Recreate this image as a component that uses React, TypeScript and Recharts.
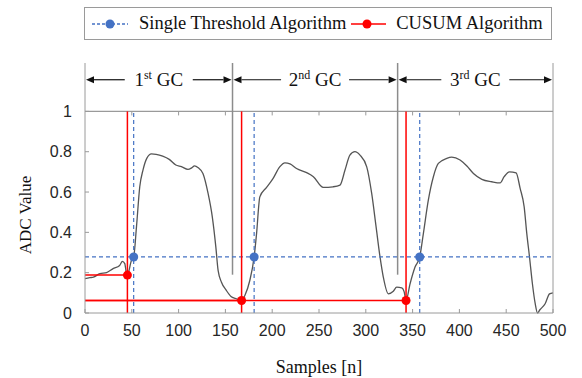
import { LineChart, Line, XAxis, YAxis, ReferenceLine, ReferenceDot } from "recharts";

const samples = [
  0, 5, 9, 16, 23, 30, 37, 40, 42.5, 44.3, 45.3, 49.6, 52, 55, 58.5, 62, 66, 71, 76, 83, 90,
  97, 103, 110, 114, 117, 121, 126, 131.5, 136, 139.8, 142.2, 145.8, 151, 156, 161, 167.3,
  170.8, 176, 180.7, 183.3, 186.8, 194, 201, 208, 213.6, 219, 226, 236.8, 244, 254.5, 265,
  272.4, 277.8, 283, 288.4, 293.8, 301, 306.3, 311, 315.2, 318.7, 324, 329.4, 333, 338.4,
  341, 343, 347.3, 352.6, 357.6, 361.5, 366.8, 372.2, 377.5, 386.5, 391.8, 400.7, 408, 415,
  424, 434.6, 443.5, 447.8, 453.5, 460.6, 464.9, 469.2, 472, 474.9, 478, 481, 483.4, 486,
  491.6, 496.3, 500,
];
const adcValues = [
  0.17, 0.175, 0.178, 0.195, 0.2, 0.22, 0.236, 0.256, 0.245, 0.195, 0.188, 0.26, 0.278, 0.427,
  0.626, 0.71, 0.767, 0.789, 0.787, 0.778, 0.762, 0.734, 0.726, 0.712, 0.72, 0.73, 0.72, 0.692,
  0.593, 0.477, 0.327, 0.211, 0.153, 0.112, 0.082, 0.072, 0.062, 0.087, 0.16, 0.278, 0.394,
  0.576, 0.623, 0.668, 0.725, 0.745, 0.74, 0.717, 0.696, 0.676, 0.623, 0.626, 0.634, 0.709,
  0.783, 0.8, 0.783, 0.725, 0.593, 0.427, 0.278, 0.178, 0.095, 0.108, 0.128, 0.125, 0.105,
  0.062, 0.145, 0.228, 0.278, 0.394, 0.56, 0.676, 0.742, 0.767, 0.773, 0.759, 0.729, 0.692,
  0.663, 0.651, 0.645, 0.676, 0.7, 0.695, 0.618, 0.526, 0.394, 0.278, 0.145, 0.046, 0.0,
  0.016, 0.046, 0.095, 0.1,
];

const xTicks = [0, 50, 100, 150, 200, 250, 300, 350, 400, 450, 500];
const yTicks = [0, 0.2, 0.4, 0.6, 0.8, 1];

const cusumSamples = [45.3, 167.3, 343];
const cusumValues = [0.188, 0.062, 0.062];
const thresholdSamples = [52, 180.7, 357.6];
const thresholdValue = 0.278;

const gcBounds = [0, 157.6, 334, 500];
const gcNumbers = ["1", "2", "3"];
const gcSuffixes = ["st", "nd", "rd"];
const gcLineBottom = 0.19;
const gcArrowLevel = 1.157;
const yTop = 1.24;

const signal = samples.map((n, i) => ({ n, adc: adcValues[i] }));

const RED = "#ff0000";
const BLUE = "#4472c4";
const AXIS = "#9a9a9a";
const SERIF = "'Liberation Serif', 'Times New Roman', serif";
const SANS = "'Liberation Sans', Arial, sans-serif";

function GcArrow({ x1, x2, y1, num, sup }: any) {
  const mid = (x1 + x2) / 2;
  const gap = 34;
  const a = x1 + 1;
  const b = x2 - 1;
  const head = 8;
  const hw = 3.5;
  return (
    <g>
      <line x1={a + head} y1={y1} x2={mid - gap} y2={y1} stroke="#111" strokeWidth={1.2} />
      <polygon points={`${a},${y1} ${a + head},${y1 - hw} ${a + head},${y1 + hw}`} fill="#111" />
      <line x1={mid + gap} y1={y1} x2={b - head} y2={y1} stroke="#111" strokeWidth={1.2} />
      <polygon points={`${b},${y1} ${b - head},${y1 - hw} ${b - head},${y1 + hw}`} fill="#111" />
      <text x={mid} y={y1 + 6} textAnchor="middle" fontFamily={SERIF} fontSize={19} fill="#111">
        {num}
        <tspan fontSize={12} dy={-7}>{sup}</tspan>
        <tspan dy={7}> GC</tspan>
      </text>
    </g>
  );
}

function YLabel({ viewBox }: any) {
  const x = viewBox.x + 25;
  const y = viewBox.y + viewBox.height - 98;
  return (
    <text
      x={x}
      y={y}
      transform={`rotate(-90, ${x}, ${y})`}
      textAnchor="middle"
      dominantBaseline="central"
      fontFamily={SERIF}
      fontSize={17}
      fill="#111"
    >
      ADC Value
    </text>
  );
}

function LegendBox() {
  return (
    <div
      style={{
        position: "absolute",
        left: 84,
        top: 7,
        width: 468,
        height: 33,
        boxSizing: "border-box",
        border: "1.3px solid #9a9a9a",
        display: "flex",
        alignItems: "center",
        fontFamily: SERIF,
        fontSize: 18.5,
        color: "#111",
        whiteSpace: "nowrap",
      }}
    >
      <svg width={36} height={12} style={{ marginLeft: 7 }}>
        <line x1={0} y1={6} x2={36} y2={6} stroke={BLUE} strokeWidth={1.3} strokeDasharray="3 2" />
        <circle cx={18} cy={6} r={4.5} fill={BLUE} />
      </svg>
      <span style={{ marginLeft: 11 }}>Single Threshold Algorithm</span>
      <svg width={35} height={12} style={{ marginLeft: 5 }}>
        <line x1={0} y1={6} x2={35} y2={6} stroke={RED} strokeWidth={1.5} />
        <circle cx={16} cy={6} r={4.5} fill={RED} />
      </svg>
      <span style={{ marginLeft: 10 }}>CUSUM Algorithm</span>
    </div>
  );
}

export default function App() {
  return (
    <div style={{ position: "absolute", left: 0, top: 0, width: 582, height: 378, background: "#fff" }}>
      <LegendBox />
      <LineChart
        width={582}
        height={378}
        data={signal}
        margin={{ top: 63, right: 0, bottom: 0, left: 0 }}
      >
        <XAxis
          dataKey="n"
          type="number"
          domain={[0, 500]}
          ticks={xTicks}
          height={65}
          stroke={AXIS}
          tickSize={-4}
          tickMargin={16}
          tick={{ fill: "#262626", fontSize: 16, fontFamily: SANS }}
          label={{
            value: "Samples [n]",
            position: "insideBottom",
            offset: 5,
            fontSize: 18,
            fontFamily: SERIF,
            fill: "#111",
          }}
        />
        <YAxis
          yAxisId="left"
          type="number"
          domain={[0, yTop]}
          ticks={yTicks}
          width={85}
          stroke={AXIS}
          tickSize={-4}
          tickMargin={17}
          tick={{ fill: "#262626", fontSize: 16, fontFamily: SANS }}
          label={{ content: (p: any) => <YLabel {...p} /> }}
        />
        <YAxis
          yAxisId="right"
          orientation="right"
          type="number"
          domain={[0, yTop]}
          ticks={yTicks}
          width={29}
          stroke={AXIS}
          tickSize={-4}
          tick={false}
        />

        <ReferenceLine yAxisId="left" y={1} stroke={AXIS} strokeWidth={1.3} />
        {xTicks.slice(1, -1).map((t) => (
          <ReferenceLine
            key={`top-${t}`}
            yAxisId="left"
            segment={[{ x: t, y: 1 }, { x: t, y: 0.98 }]}
            stroke={AXIS}
          />
        ))}
        {gcBounds.slice(1, -1).map((b) => (
          <ReferenceLine
            key={`gc-${b}`}
            yAxisId="left"
            segment={[{ x: b, y: gcLineBottom }, { x: b, y: yTop }]}
            stroke="#8c8c8c"
            strokeWidth={1.5}
          />
        ))}
        {gcNumbers.map((num, i) => (
          <ReferenceLine
            key={`arrow-${num}`}
            yAxisId="left"
            segment={[
              { x: gcBounds[i], y: gcArrowLevel },
              { x: gcBounds[i + 1], y: gcArrowLevel },
            ]}
            shape={(p: any) => <GcArrow {...p} num={num} sup={gcSuffixes[i]} />}
          />
        ))}

        <Line
          yAxisId="left"
          dataKey="adc"
          type="monotone"
          stroke="#555"
          strokeWidth={1.3}
          dot={false}
          isAnimationActive={false}
        />

        <ReferenceLine
          yAxisId="left"
          segment={[{ x: 0, y: thresholdValue }, { x: 500, y: thresholdValue }]}
          stroke={BLUE}
          strokeWidth={1.2}
          strokeDasharray="4 3"
        />
        {thresholdSamples.map((s) => (
          <ReferenceLine
            key={`thv-${s}`}
            yAxisId="left"
            segment={[{ x: s, y: 0 }, { x: s, y: 1 }]}
            stroke={BLUE}
            strokeWidth={1.2}
            strokeDasharray="4 3"
          />
        ))}
        {cusumSamples.map((s, i) => (
          <ReferenceLine
            key={`cuh-${s}`}
            yAxisId="left"
            segment={[{ x: 0, y: cusumValues[i] }, { x: s, y: cusumValues[i] }]}
            stroke={RED}
            strokeWidth={1.5}
          />
        ))}
        {cusumSamples.map((s) => (
          <ReferenceLine
            key={`cuv-${s}`}
            yAxisId="left"
            segment={[{ x: s, y: 0 }, { x: s, y: 1 }]}
            stroke={RED}
            strokeWidth={1.5}
          />
        ))}
        {thresholdSamples.map((s) => (
          <ReferenceDot
            key={`thd-${s}`}
            yAxisId="left"
            x={s}
            y={thresholdValue}
            r={4.5}
            fill={BLUE}
            stroke="none"
          />
        ))}
        {cusumSamples.map((s, i) => (
          <ReferenceDot
            key={`cud-${s}`}
            yAxisId="left"
            x={s}
            y={cusumValues[i]}
            r={4.5}
            fill={RED}
            stroke="none"
          />
        ))}
      </LineChart>
    </div>
  );
}
